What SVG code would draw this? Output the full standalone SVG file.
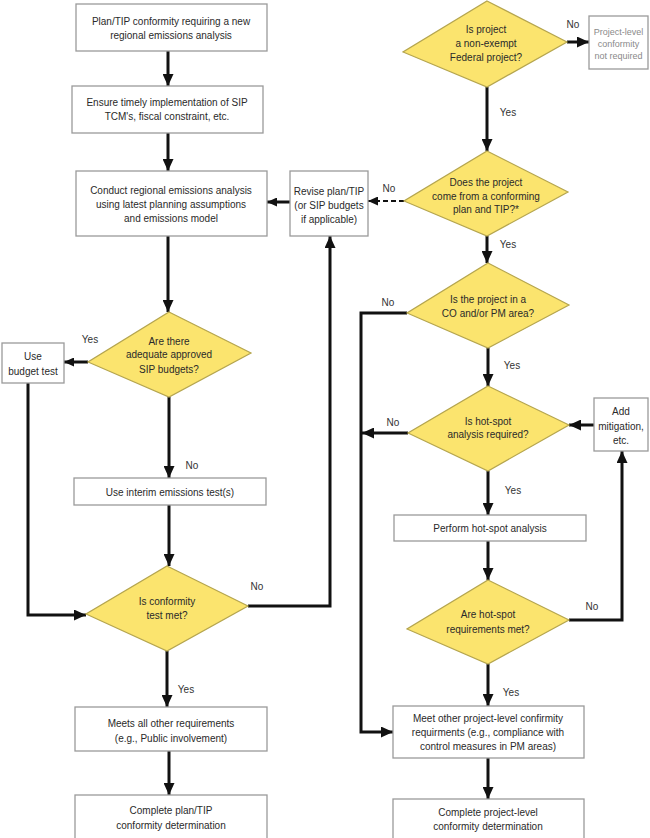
<svg xmlns="http://www.w3.org/2000/svg" width="650" height="838" viewBox="0 0 650 838">
<defs>
<style>
.box{fill:#fff;stroke:#9a9a9a;stroke-width:1.3}
.dia{fill:#fbe46e;stroke:#b5a54e;stroke-width:1.2}
.t{font-family:"Liberation Sans",Arial,sans-serif;font-size:10px;fill:#2a2a2a;text-anchor:middle}
.g{fill:#8a8a8a;font-size:9px}
.lbl{font-family:"Liberation Sans",Arial,sans-serif;font-size:10px;fill:#333;text-anchor:middle}
.c{fill:none;stroke:#111;stroke-width:3}
.d{fill:none;stroke:#111;stroke-width:2.2;stroke-dasharray:5,3}
</style>
<marker id="ah" markerUnits="userSpaceOnUse" markerWidth="12" markerHeight="11" refX="12" refY="5.5" orient="auto">
<path d="M0,0 L12,5.5 L0,11 z" fill="#111"/>
</marker>
<marker id="ahs" markerUnits="userSpaceOnUse" markerWidth="10" markerHeight="9" refX="10" refY="4.5" orient="auto">
<path d="M0,0 L10,4.5 L0,9 z" fill="#111"/>
</marker>
</defs>
<rect width="650" height="838" fill="#fff"/>
<g id="connectors">
<path class="c" d="M168,51 V86" marker-end="url(#ah)"/>
<path class="c" d="M168,133 V171" marker-end="url(#ah)"/>
<path class="c" d="M168,236 V312" marker-end="url(#ah)"/>
<path class="c" d="M88,362 H64" marker-end="url(#ahs)"/>
<path class="c" d="M28,383 V615 H86" marker-end="url(#ah)"/>
<path class="c" d="M169,397 V478" marker-end="url(#ah)"/>
<path class="c" d="M169,505 V566" marker-end="url(#ah)"/>
<path class="c" d="M248,606 H330 V236" marker-end="url(#ah)"/>
<path class="c" d="M167,651 V707" marker-end="url(#ah)"/>
<path class="c" d="M169,751 V795" marker-end="url(#ah)"/>
<path class="c" d="M567,42 H589" marker-end="url(#ah)"/>
<path class="c" d="M487,87 V151" marker-end="url(#ah)"/>
<path class="d" d="M404,201 H368" marker-end="url(#ahs)"/>
<path class="c" d="M290,202 H267" marker-end="url(#ahs)"/>
<path class="c" d="M487,236 V263" marker-end="url(#ah)"/>
<path class="c" d="M407,313 H361 V732 H393" marker-end="url(#ah)"/>
<path class="c" d="M488,348 V386" marker-end="url(#ah)"/>
<path class="c" d="M408,433 H362" marker-end="url(#ah)"/>
<path class="c" d="M594,425 H569" marker-end="url(#ah)"/>
<path class="c" d="M488,471 V515" marker-end="url(#ah)"/>
<path class="c" d="M488,541 V580" marker-end="url(#ah)"/>
<path class="c" d="M569,620 H622 V451" marker-end="url(#ah)"/>
<path class="c" d="M488,664 V706" marker-end="url(#ah)"/>
<path class="c" d="M488,758 V799" marker-end="url(#ah)"/>
<text class="lbl" x="90" y="343">Yes</text>
<text class="lbl" x="192" y="469">No</text>
<text class="lbl" x="257" y="590">No</text>
<text class="lbl" x="186" y="693">Yes</text>
<text class="lbl" x="573" y="28">No</text>
<text class="lbl" x="508" y="116">Yes</text>
<text class="lbl" x="389" y="192">No</text>
<text class="lbl" x="508" y="248">Yes</text>
<text class="lbl" x="388" y="306">No</text>
<text class="lbl" x="512" y="369">Yes</text>
<text class="lbl" x="393" y="426">No</text>
<text class="lbl" x="513" y="494">Yes</text>
<text class="lbl" x="592" y="610">No</text>
<text class="lbl" x="511" y="696">Yes</text>
</g>
<g id="n1"><rect class="box" x="76" y="4" width="191" height="47"/>
<text class="t" x="171" y="25">Plan/TIP conformity requiring a new</text>
<text class="t" x="171" y="39">regional emissions analysis</text></g>
<g id="n2"><rect class="box" x="72" y="86" width="191" height="47"/>
<text class="t" x="167" y="106">Ensure timely implementation of SIP</text>
<text class="t" x="167" y="120">TCM's, fiscal constraint, etc.</text></g>
<g id="n3"><rect class="box" x="76" y="171" width="191" height="65"/>
<text class="t" x="171" y="194">Conduct regional emissions analysis</text>
<text class="t" x="171" y="208">using latest planning assumptions</text>
<text class="t" x="171" y="222">and emissions model</text></g>
<g id="n4"><polygon class="dia" points="169,312 251,353 169,397 88,362"/>
<text class="t" x="169" y="345">Are there</text>
<text class="t" x="169" y="358">adequate approved</text>
<text class="t" x="169" y="373">SIP budgets?</text></g>
<g id="n5"><rect class="box" x="2" y="343" width="62" height="40"/>
<text class="t" x="33" y="360">Use</text>
<text class="t" x="33" y="375">budget test</text></g>
<g id="n6"><rect class="box" x="74" y="478" width="192" height="27"/>
<text class="t" x="170" y="496">Use interim emissions test(s)</text></g>
<g id="n7"><polygon class="dia" points="167,566 248,606 167,651 86,614"/>
<text class="t" x="167" y="605">Is conformity</text>
<text class="t" x="167" y="619">test met?</text></g>
<g id="n8"><rect class="box" x="75" y="707" width="192" height="44"/>
<text class="t" x="171" y="727">Meets all other requirements</text>
<text class="t" x="171" y="742">(e.g., Public involvement)</text></g>
<g id="n9"><rect class="box" x="75" y="795" width="192" height="50"/>
<text class="t" x="171" y="814">Complete plan/TIP</text>
<text class="t" x="171" y="829">conformity determination</text></g>
<g id="n10"><polygon class="dia" points="487,1 567,42 487,87 403,52"/>
<text class="t" x="486" y="33">Is project</text>
<text class="t" x="486" y="47">a non-exempt</text>
<text class="t" x="486" y="61">Federal project?</text></g>
<g id="n11"><rect class="box" x="589" y="16" width="59" height="53"/>
<text class="t g" x="618.5" y="35">Project-level</text>
<text class="t g" x="618.5" y="47">conformity</text>
<text class="t g" x="618.5" y="59">not required</text></g>
<g id="n12"><polygon class="dia" points="487,151 568,192 487,236 404,201"/>
<text class="t" x="486" y="186">Does the project</text>
<text class="t" x="486" y="200">come from a conforming</text>
<text class="t" x="486" y="213">plan and TIP?*</text></g>
<g id="n13"><rect class="box" x="290" y="171" width="78" height="65"/>
<text class="t" x="329" y="195">Revise plan/TIP</text>
<text class="t" x="329" y="209">(or SIP budgets</text>
<text class="t" x="329" y="223">if applicable)</text></g>
<g id="n14"><polygon class="dia" points="488,263 569,305 488,348 407,313"/>
<text class="t" x="488" y="303">Is the project in a</text>
<text class="t" x="488" y="317">CO and/or PM area?</text></g>
<g id="n15"><polygon class="dia" points="488,386 569,425 488,471 408,433"/>
<text class="t" x="488" y="425">Is hot-spot</text>
<text class="t" x="488" y="438">analysis required?</text></g>
<g id="n16"><rect class="box" x="594" y="398" width="54" height="53"/>
<text class="t" x="621" y="415">Add</text>
<text class="t" x="621" y="430">mitigation,</text>
<text class="t" x="621" y="444">etc.</text></g>
<g id="n17"><rect class="box" x="394" y="515" width="192" height="26"/>
<text class="t" x="490" y="532">Perform hot-spot analysis</text></g>
<g id="n18"><polygon class="dia" points="488,580 569,620 488,664 407,629"/>
<text class="t" x="488" y="618">Are hot-spot</text>
<text class="t" x="488" y="633">requirements met?</text></g>
<g id="n19"><rect class="box" x="393" y="706" width="191" height="52"/>
<text class="t" x="488" y="722">Meet other project-level confirmity</text>
<text class="t" x="488" y="736">requirments (e.g., compliance with</text>
<text class="t" x="488" y="750">control measures in PM areas)</text></g>
<g id="n20"><rect class="box" x="393" y="799" width="191" height="46"/>
<text class="t" x="488" y="816">Complete project-level</text>
<text class="t" x="488" y="830">conformity determination</text></g>
</svg>
